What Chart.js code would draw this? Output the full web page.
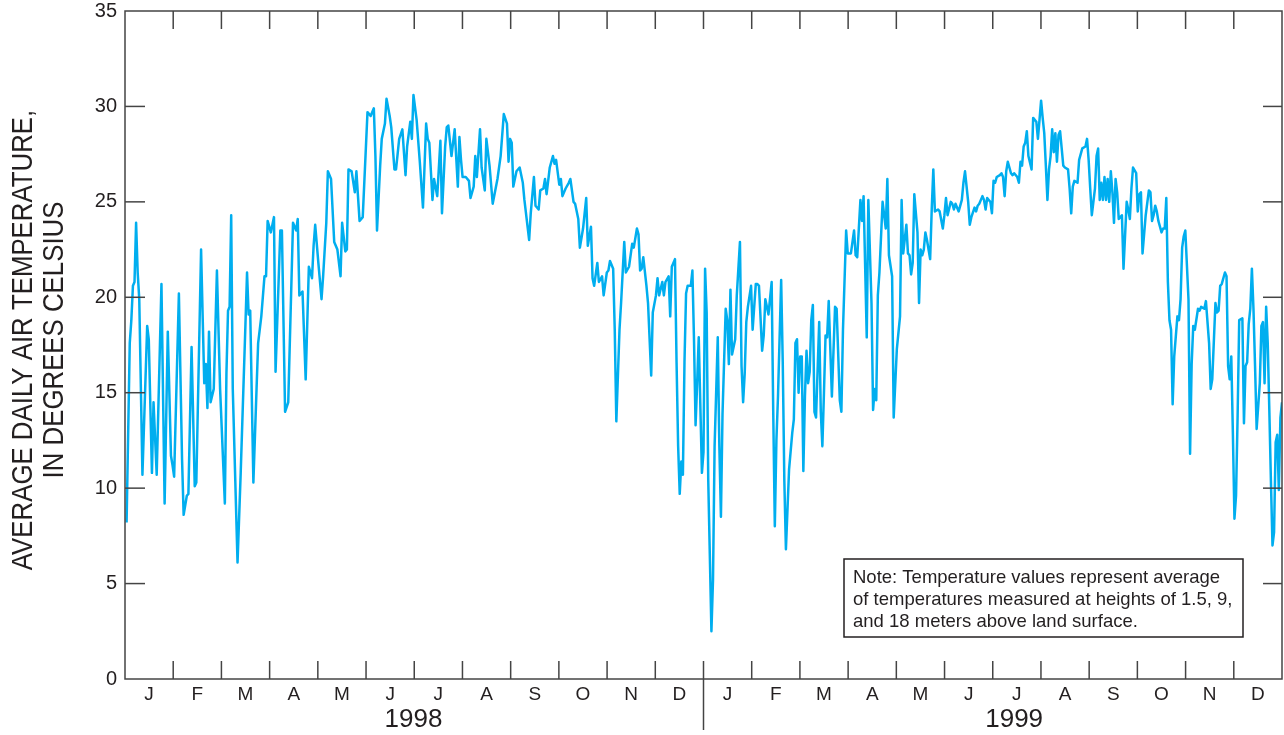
<!DOCTYPE html>
<html>
<head>
<meta charset="utf-8">
<title>Average daily air temperature, 1998-1999</title>
<script src="https://cdn.jsdelivr.net/npm/chart.js@4.4.1/dist/chart.umd.min.js"></script>
<style>
  html, body { margin: 0; padding: 0; background: #fff; }
  canvas { display: block; }
</style>
</head>
<body>
<canvas id="tempChart" width="1284" height="735"></canvas>
<script>
// daily air temperature (day of year, deg C), one line per month
const days1998 = [
  1, 3, 4, 5, 6, 7, 8, 9, 11, 14, 15, 17, 18, 20, 23, 25, 27, 29, 30, 31,
  34, 36, 37, 39, 40, 42, 44, 45, 48, 50, 51, 52, 53, 54, 56, 58,
  60, 63, 64, 65, 66, 67, 68, 71, 73, 76, 77, 78, 79, 81, 83, 84, 86, 88, 89, 90,
  92, 94, 95, 98, 99, 101, 103, 106, 108, 109, 110, 112, 114, 116, 118, 119, 120,
  122, 124, 125, 127, 128, 130, 132, 134, 136, 137, 139, 140, 141, 143, 145, 146, 148, 150,
  153, 155, 157, 158, 159, 161, 162, 164, 165, 167, 168, 170, 171, 173, 175, 177, 178, 180, 181,
  182, 184, 186, 188, 190, 191, 192, 194, 195, 197, 199, 200, 202, 203, 204, 206, 208, 210, 211, 212,
  213, 215, 217, 218, 220, 221, 222, 224, 225, 227, 228, 230, 232, 235, 237, 239, 241, 242, 243,
  244, 245, 247, 249, 251, 252, 255, 256, 258, 259, 261, 262, 264, 265, 266, 268, 270, 271, 272,
  274, 275, 276, 278, 280, 281, 283, 284, 286, 287, 289, 291, 292, 294, 295, 296, 298, 299, 301, 302, 304,
  305, 306, 308, 309, 310, 312, 313, 315, 316, 318, 320, 321, 323, 324, 325, 326, 327, 329, 330, 332, 333,
  335, 336, 337, 339, 340, 341, 343, 344, 345, 347, 348, 349, 350, 351, 352, 353, 354, 355, 357, 358, 359, 360, 361, 362, 364, 365
];
const temps1998 = [
  8.2, 17.6, 18.8, 20.6, 20.8, 23.9, 21.3, 19.9, 10.7, 18.5, 17.8, 10.8, 14.5, 10.7, 20.7, 9.2, 18.2, 11.7, 11.2, 10.6,
  20.2, 11.5, 8.6, 9.6, 9.7, 17.4, 10.1, 10.3, 22.5, 15.5, 16.5, 14.2, 18.2, 14.5, 15.2, 21.4,
  15.2, 9.2, 16.0, 19.3, 19.5, 24.3, 15.2, 6.1, 10.8, 18.6, 21.3, 19.1, 19.3, 10.3, 15.2, 17.6, 19.0, 21.1, 21.1, 24.0,
  23.4, 24.2, 16.1, 23.5, 23.5, 14.0, 14.5, 23.9, 23.5, 24.1, 20.1, 20.3, 15.7, 21.6, 21.0, 22.7, 23.8,
  21.8, 19.9, 21.1, 23.9, 26.6, 26.2, 22.9, 22.5, 21.1, 23.9, 22.4, 22.5, 26.7, 26.6, 25.5, 26.6, 24.0, 24.2,
  29.7, 29.5, 29.9, 27.4, 23.5, 26.9, 28.3, 29.1, 30.4, 29.5, 28.9, 26.7, 26.7, 28.3, 28.8, 26.4, 27.9, 29.2, 28.3,
  30.6, 29.3, 27.1, 24.7, 29.1, 28.3, 28.1, 25.1, 26.2, 25.3, 28.2, 24.4, 27.9, 28.9, 29.0, 27.4, 28.8, 25.8, 28.4, 27.2,
  26.3, 26.3, 26.1, 25.2, 25.8, 27.4, 26.3, 28.8, 26.8, 25.6, 28.3, 26.9, 24.9, 26.2, 27.4, 29.6, 29.1, 27.1, 28.3,
  28.1, 25.8, 26.6, 26.8, 26.0, 25.1, 23.0, 24.4, 26.3, 24.8, 24.6, 25.6, 25.7, 26.2, 25.4, 26.8, 27.4, 27.0, 27.2,
  25.9, 26.2, 25.3, 25.7, 26.0, 26.2, 25.0, 24.9, 24.1, 22.6, 23.6, 25.2, 22.7, 23.7, 21.0, 20.6, 21.8, 20.8, 21.1, 20.1, 21.3,
  21.4, 21.9, 21.5, 18.3, 13.5, 18.3, 19.7, 22.9, 21.3, 21.6, 22.8, 22.6, 23.6, 23.3, 21.4, 21.5, 22.1, 20.6, 19.7, 15.9, 19.2,
  20.1, 21.0, 20.1, 20.8, 20.1, 20.8, 21.1, 19.0, 21.6, 22.0, 16.6, 12.2, 9.7, 11.4, 10.7, 16.6, 20.2, 20.6, 20.6, 21.4, 17.8, 13.3, 15.5, 17.9, 10.8, 11.9
];
const days1999 = [
  1, 2, 3, 5, 6, 7, 9, 10, 11, 12, 14, 15, 16, 17, 18, 20, 21, 23, 24, 25, 26, 27, 28, 30, 31,
  33, 34, 35, 37, 38, 39, 40, 41, 43, 44, 45, 46, 47, 49, 50, 51, 52, 54, 56, 57, 58, 59,
  60, 61, 62, 63, 64, 65, 66, 67, 68, 69, 70, 71, 73, 74, 75, 76, 77, 78, 79, 81, 83, 84, 86, 87, 88, 90,
  91, 92, 93, 95, 96, 97, 98, 99, 100, 101, 103, 104, 106, 107, 108, 109, 110, 111, 113, 115, 116, 117, 119, 120,
  122, 124, 125, 126, 128, 129, 130, 131, 132, 133, 135, 136, 137, 138, 139, 140, 141, 143, 144, 145, 146, 148, 149, 151,
  152, 153, 154, 156, 157, 158, 159, 161, 162, 163, 164, 165, 167, 168, 169, 171, 172, 173, 174, 176, 177, 178, 179, 180, 181,
  182, 183, 184, 185, 187, 188, 189, 190, 191, 192, 194, 195, 196, 198, 199, 200, 201, 202, 203, 204, 205, 207, 208, 210, 211, 212,
  213, 214, 215, 216, 217, 218, 219, 220, 221, 222, 223, 224, 225, 226, 227, 228, 230, 231, 232, 233, 234, 236, 237, 239, 241, 242, 243,
  244, 245, 247, 248, 249, 250, 251, 252, 253, 254, 255, 256, 257, 258, 259, 260, 261, 262, 263, 264, 265, 267, 268, 269, 270, 271, 273,
  274, 275, 276, 277, 279, 281, 282, 283, 284, 285, 286, 287, 289, 290, 291, 292, 293, 294, 295, 296, 297, 299, 300, 301, 302, 303, 304,
  306, 307, 308, 309, 310, 312, 313, 314, 316, 317, 319, 320, 321, 323, 324, 325, 326, 327, 329, 330, 331, 332, 333, 334,
  335, 336, 337, 338, 340, 341, 342, 343, 344, 345, 346, 347, 348, 349, 351, 352, 353, 354, 355, 356, 357, 358, 359, 360, 361, 362, 363, 364, 365
];
const temps1999 = [
  21.5, 19.2, 10.4, 2.5, 5.2, 12.2, 17.9, 12.2, 8.5, 13.9, 19.4, 18.8, 16.5, 20.4, 17.0, 17.8, 20.1, 22.9, 16.4, 14.5, 16.0, 18.7, 19.5, 20.6, 18.3,
  20.7, 20.7, 20.6, 17.2, 18.0, 19.9, 19.5, 19.1, 20.8, 14.0, 8.0, 12.5, 14.8, 20.9, 16.6, 10.4, 6.8, 11.0, 12.9, 13.6, 17.6, 17.8,
  15.0, 16.9, 16.9, 10.9, 14.8, 17.2, 15.5, 16.1, 18.8, 19.6, 14.0, 13.7, 18.7, 14.0, 12.2, 15.0, 18.0, 17.9, 19.8, 14.8, 19.5, 19.4, 14.6, 14.0, 18.3, 23.5,
  22.3, 22.3, 22.3, 23.5, 22.2, 22.1, 23.6, 25.1, 24.0, 25.3, 17.9, 25.1, 19.7, 14.1, 15.2, 14.6, 20.1, 21.3, 25.0, 23.6, 26.2, 22.2, 21.1, 13.7,
  17.3, 19.0, 25.1, 22.3, 23.8, 22.3, 22.2, 21.2, 21.8, 25.4, 23.4, 19.7, 22.5, 22.2, 22.5, 23.4, 23.0, 22.0, 24.6, 26.7, 24.5, 24.6, 24.5, 23.6,
  24.3, 25.2, 24.3, 25.0, 24.9, 24.6, 24.9, 24.5, 24.8, 25.1, 26.0, 26.6, 25.0, 23.8, 24.2, 24.7, 24.5, 24.8, 24.9, 25.3, 25.1, 24.6, 25.2, 25.1, 25.0,
  24.4, 26.1, 26.0, 26.3, 26.4, 26.5, 26.3, 25.3, 26.6, 27.1, 26.5, 26.4, 26.5, 26.3, 26.0, 27.1, 26.9, 27.9, 28.1, 28.7, 27.4, 26.7, 29.4, 29.2, 28.3, 29.3,
  30.3, 29.4, 28.6, 26.9, 25.1, 26.7, 27.4, 28.8, 27.6, 28.6, 27.1, 28.5, 28.7, 27.8, 26.9, 26.8, 26.7, 25.7, 24.4, 25.8, 26.1, 26.0, 27.2, 27.8, 27.9, 28.3, 27.2,
  25.7, 24.3, 25.7, 27.4, 27.8, 25.1, 26.0, 25.1, 26.3, 25.1, 26.2, 25.0, 26.6, 25.5, 23.9, 26.2, 25.5, 24.1, 24.2, 24.3, 21.5, 25.0, 24.6, 24.1, 25.7, 26.8, 26.5,
  24.5, 25.4, 25.5, 22.3, 24.3, 25.6, 25.5, 24.0, 24.3, 24.8, 24.5, 24.0, 23.4, 23.6, 23.6, 25.2, 20.8, 18.8, 18.3, 14.4, 16.9, 19.0, 18.8, 19.9, 22.6, 23.2, 23.5,
  19.9, 11.8, 16.5, 18.5, 18.3, 19.4, 19.3, 19.5, 19.4, 19.8, 17.6, 15.2, 15.7, 19.7, 19.2, 19.3, 20.6, 20.7, 21.3, 21.1, 16.4, 15.7, 16.9, 12.9,
  8.4, 9.6, 13.8, 18.8, 18.9, 13.4, 16.4, 16.6, 18.6, 19.4, 21.5, 19.4, 16.4, 13.1, 15.5, 18.5, 18.7, 15.5, 19.5, 17.6, 14.1, 10.4, 7.0, 7.7, 12.4, 12.8, 9.9, 13.7, 14.5
];

const monthLabels = ['J', 'F', 'M', 'A', 'M', 'J', 'J', 'A', 'S', 'O', 'N', 'D'];
const yearLabels = ['1998', '1999'];
const yearLabelDays = [182, 561];
const yTitleLines = ['AVERAGE DAILY AIR TEMPERATURE,', 'IN DEGREES CELSIUS'];
const noteLines = [
  'Note: Temperature values represent average',
  'of temperatures measured at heights of 1.5, 9,',
  'and 18 meters above land surface.'
];

const DAYS = 730;
const MONTHS = 24;
const INK = '#231f20';
const FRAME = '#444';
const SANS = "'Liberation Sans', Arial, Helvetica, sans-serif";

const points = days1998.map((d, i) => ({ x: d, y: temps1998[i] }))
  .concat(days1999.map((d, i) => ({ x: 365 + d, y: temps1999[i] })));

const monthMid = Array.from({ length: MONTHS }, (_, k) => (k + 0.5) * DAYS / MONTHS);

function line(ctx, x1, y1, x2, y2) {
  ctx.beginPath();
  ctx.moveTo(x1, y1);
  ctx.lineTo(x2, y2);
  ctx.stroke();
}

// frame, inward ticks, narrow y title, year labels and the note box
const frameTicks = {
  id: 'frameTicks',
  afterDraw(chart) {
    const { ctx, chartArea: a, scales: { x, y } } = chart;
    ctx.save();
    ctx.strokeStyle = FRAME;
    ctx.lineWidth = 1.5;
    ctx.strokeRect(a.left, a.top, a.right - a.left, a.bottom - a.top);

    for (let v = 5; v < 35; v += 5) {
      const py = y.getPixelForValue(v);
      line(ctx, a.left, py, a.left + 20, py);
      line(ctx, a.right - 19, py, a.right, py);
    }
    for (let k = 1; k < MONTHS; k++) {
      const px = x.getPixelForValue(k * DAYS / MONTHS);
      line(ctx, px, a.top, px, a.top + 18);
      line(ctx, px, a.bottom - 18, px, a.bottom);
    }
    const split = x.getPixelForValue(DAYS / 2);
    line(ctx, split, a.bottom, split, 730);

    ctx.fillStyle = INK;
    ctx.textAlign = 'center';
    ctx.textBaseline = 'middle';

    // condensed two-line axis title
    const cy = (a.top + a.bottom) / 2 - 5;
    ctx.font = '29px ' + SANS;
    yTitleLines.forEach((t, i) => {
      ctx.save();
      ctx.translate(23 + i * 31, cy);
      ctx.rotate(-Math.PI / 2);
      ctx.scale(0.89, 1);
      ctx.fillText(t, 0, 1);
      ctx.restore();
    });

    ctx.font = '26px ' + SANS;
    yearLabels.forEach((t, i) => ctx.fillText(t, x.getPixelForValue(yearLabelDays[i]), 720));

    // note box, lower right of the plot
    const bx = a.right - 438, by = a.bottom - 120;
    ctx.strokeStyle = INK;
    ctx.lineWidth = 1.5;
    ctx.strokeRect(bx, by, 399, 78);
    ctx.font = '18.5px ' + SANS;
    ctx.textAlign = 'left';
    noteLines.forEach((t, i) => ctx.fillText(t, bx + 9, by + 19 + i * 22));
    ctx.restore();
  }
};

new Chart(document.getElementById('tempChart'), {
  type: 'line',
  data: {
    datasets: [{
      data: points,
      borderColor: '#00aeef',
      borderWidth: 2.5,
      borderJoinStyle: 'round',
      pointRadius: 0,
      tension: 0,
      fill: false
    }]
  },
  options: {
    responsive: false,
    animation: false,
    devicePixelRatio: 1,
    layout: { padding: { top: 11, right: 2, left: 0, bottom: 0 } },
    plugins: { legend: { display: false }, tooltip: { enabled: false } },
    scales: {
      x: {
        type: 'linear',
        min: 0,
        max: DAYS,
        grid: { display: false, drawTicks: false },
        border: { display: false },
        afterBuildTicks: s => { s.ticks = monthMid.map(v => ({ value: v })); },
        ticks: {
          autoSkip: false,
          maxRotation: 0,
          padding: 4,
          color: INK,
          font: { family: SANS, size: 19 },
          callback: (v, i) => monthLabels[i % 12]
        },
        afterFit: s => { s.height = 56; }
      },
      y: {
        min: 0,
        max: 35,
        grid: { display: false, drawTicks: false },
        border: { display: false },
        ticks: { stepSize: 5, padding: 8, color: INK, font: { family: SANS, size: 20 } },
        afterFit: s => { s.width = 125; s.paddingTop = 0; s.paddingBottom = 0; }
      }
    }
  },
  plugins: [frameTicks]
});
</script>
</body>
</html>
